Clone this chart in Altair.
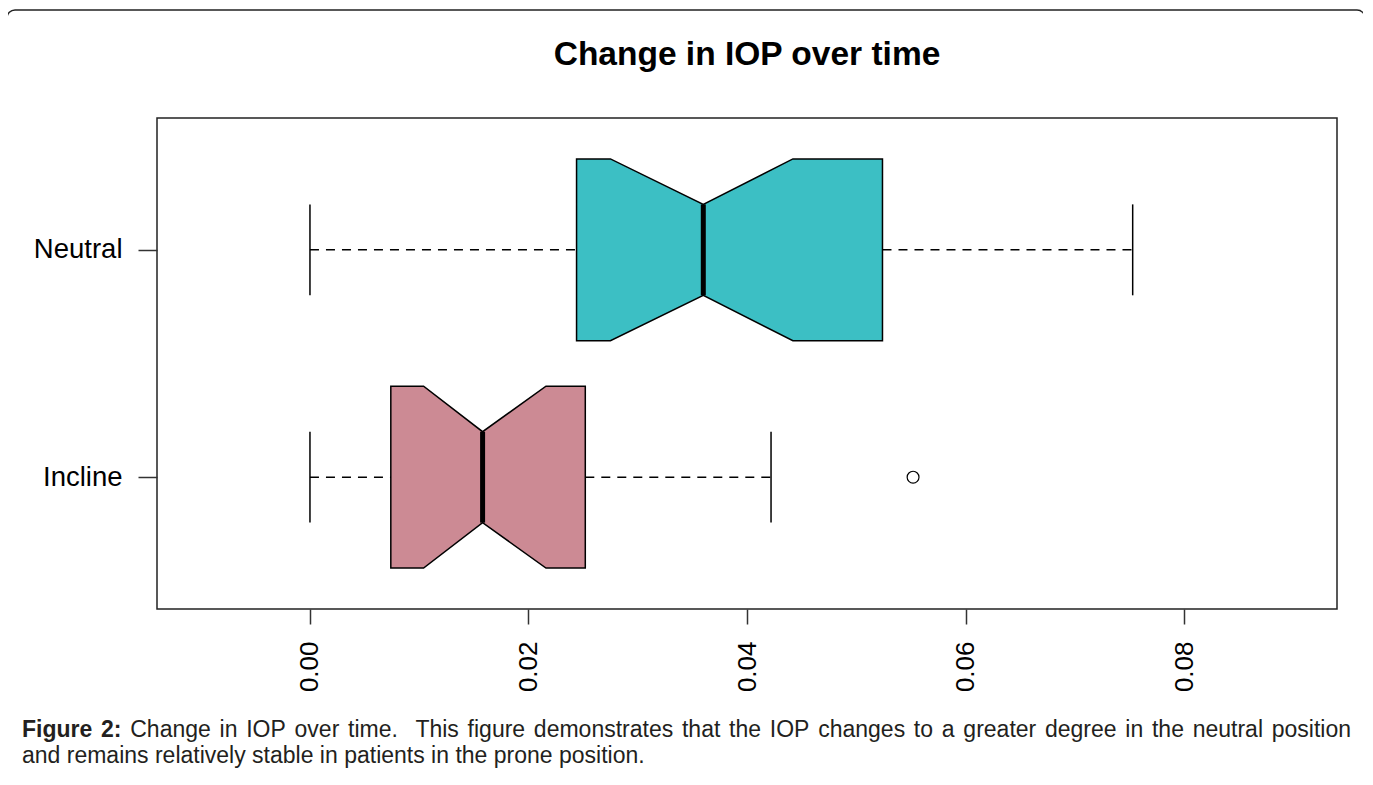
import altair as alt
import pandas as pd

# ---- data ----
groups = ["Neutral", "Incline"]
group_pos = [2, 1]
whisker_low = [0.0, 0.0]
q1 = [0.0244, 0.0074]
notch_low = [0.0275, 0.0104]
median = [0.0360, 0.0158]
notch_high = [0.0442, 0.0216]
q3 = [0.0524, 0.0252]
whisker_high = [0.0753, 0.0422]
fill_colors = ["#3CBFC4", "#CC8A94"]
outlier_groups = ["Incline"]
outlier_values = [0.0552]
x_ticks = [0.0, 0.02, 0.04, 0.06, 0.08]

title_text = "Change in IOP over time"
caption_bold = "Figure 2:"
caption_line1 = "Change in IOP over time.  This figure demonstrates that the IOP changes to a greater degree in the neutral position"
caption_line2 = "and remains relatively stable in patients in the prone position."

BOX_HALF = 0.4
NOTCH_HALF = 0.2
STAPLE_HALF = 0.2
FONT = "Liberation Sans"
CAP_SIZE = 23
CAP_COLOR = "#231f20"

W, H = 1180, 491

pos_of = dict(zip(groups, group_pos))

# notched box outlines
box_rows = []
for i, g in enumerate(groups):
    p = group_pos[i]
    for xv, half in [(q1[i], BOX_HALF), (notch_low[i], BOX_HALF), (median[i], NOTCH_HALF),
                     (notch_high[i], BOX_HALF), (q3[i], BOX_HALF)]:
        box_rows.append({"group": g, "x": xv, "lo": p - half, "hi": p + half})
box_df = pd.DataFrame(box_rows)

whisk_rows = []
for i, g in enumerate(groups):
    whisk_rows.append({"group": g, "x": whisker_low[i], "x2": q1[i], "y": group_pos[i]})
    whisk_rows.append({"group": g, "x": q3[i], "x2": whisker_high[i], "y": group_pos[i]})
whisk_df = pd.DataFrame(whisk_rows)

staple_rows = []
for i, g in enumerate(groups):
    for xv in (whisker_low[i], whisker_high[i]):
        staple_rows.append({"group": g, "x": xv, "lo": group_pos[i] - STAPLE_HALF, "hi": group_pos[i] + STAPLE_HALF})
staple_df = pd.DataFrame(staple_rows)

med_df = pd.DataFrame({"group": groups, "x": median,
                       "lo": [p - NOTCH_HALF for p in group_pos],
                       "hi": [p + NOTCH_HALF for p in group_pos]})

out_df = pd.DataFrame({"group": outlier_groups, "x": outlier_values,
                       "y": [pos_of[g] for g in outlier_groups]})

xscale = alt.Scale(domain=[-0.014, 0.094], nice=False, zero=False)
yscale = alt.Scale(domain=[0.42, 2.58], nice=False, zero=False)

xaxis = alt.Axis(values=x_ticks, format=".2f", labelAngle=270, labelFontSize=26, labelFont=FONT,
                 labelColor="black", tickSize=15, tickWidth=1.5, tickColor="#333", labelPadding=17,
                 domain=False, grid=False, title=None)
yaxis = alt.Axis(values=[1, 2], labelExpr="datum.value == 2 ? 'Neutral' : 'Incline'",
                 labelFontSize=27.5, labelFont=FONT, labelColor="black", tickSize=19, tickWidth=1.5,
                 tickColor="#333", labelPadding=16, domain=False, grid=False, title=None)

boxes = alt.Chart(box_df).mark_area(stroke="black", strokeWidth=1.5, opacity=1).encode(
    x=alt.X("x:Q", scale=xscale, axis=xaxis),
    y=alt.Y("lo:Q", scale=yscale, axis=yaxis),
    y2="hi:Q",
    color=alt.Color("group:N", scale=alt.Scale(domain=groups, range=fill_colors), legend=None),
    detail="group:N",
)

whiskers = alt.Chart(whisk_df).mark_rule(color="black", strokeWidth=1.5, strokeDash=[9, 7]).encode(
    x="x:Q", x2="x2:Q", y="y:Q")

staples = alt.Chart(staple_df).mark_rule(color="black", strokeWidth=1.5).encode(
    x="x:Q", y="lo:Q", y2="hi:Q")

medians = alt.Chart(med_df).mark_rule(color="black", strokeWidth=5).encode(
    x="x:Q", y="lo:Q", y2="hi:Q")

outliers = alt.Chart(out_df).mark_point(shape="circle", filled=False, color="black",
                                        size=140, strokeWidth=1.2, opacity=1).encode(
    x="x:Q", y="y:Q")

title = alt.Chart(pd.DataFrame({"t": [title_text]})).mark_text(
    font=FONT, fontSize=33.5, fontWeight="bold", color="black", align="center", baseline="alphabetic"
).encode(text="t:N", x=alt.value(W / 2), y=alt.value(-53))

# ---- justified caption, first line (Arial / Liberation Sans advance widths, 1/1000 em) ----
REG_W = {' ': 278, '.': 278, ':': 278, 'a': 556, 'b': 556, 'c': 500, 'd': 556, 'e': 556, 'f': 278,
         'g': 556, 'h': 556, 'i': 222, 'l': 222, 'm': 833, 'n': 556, 'o': 556, 'p': 556, 'r': 333,
         's': 500, 't': 278, 'u': 556, 'v': 500, 'y': 500, 'C': 722, 'I': 278, 'O': 778, 'P': 667,
         'T': 611, '2': 556}
BOLD_W = {' ': 278, 'F': 611, 'i': 278, 'g': 611, 'u': 611, 'r': 389, 'e': 556, '2': 556, ':': 333}


def text_width(s, bold):
    table = BOLD_W if bold else REG_W
    return sum(table.get(c, 556) for c in s) * CAP_SIZE / 1000.0


words = [(w, True) for w in caption_bold.split()] + [(w, False) for w in caption_line1.split()]
# gap weights: 1 for a normal space, 2 after "time." (double space in the caption)
gap_weights = [2 if words[i][0] == "time." else 1 for i in range(len(words) - 1)]

LINE_LEFT, LINE_RIGHT = -135, 1194   # caption text block in chart pixels
space_w = REG_W[' '] * CAP_SIZE / 1000.0
natural = sum(text_width(w, b) for w, b in words) + sum(gap_weights) * space_w
extra_per_weight = max(0.0, (LINE_RIGHT - LINE_LEFT - natural) / sum(gap_weights))

caption_layers = []
xcur = LINE_LEFT
for i, (w, b) in enumerate(words):
    caption_layers.append(
        alt.Chart(pd.DataFrame({"t": [w]})).mark_text(
            font=FONT, fontSize=CAP_SIZE, fontWeight="bold" if b else "normal", color=CAP_COLOR,
            align="left", baseline="alphabetic"
        ).encode(text="t:N", x=alt.value(xcur), y=alt.value(619))
    )
    xcur += text_width(w, b)
    if i < len(gap_weights):
        xcur += gap_weights[i] * (space_w + extra_per_weight)

cap_2 = alt.Chart(pd.DataFrame({"t": [caption_line2]})).mark_text(
    font=FONT, fontSize=CAP_SIZE, color=CAP_COLOR, align="left", baseline="alphabetic"
).encode(text="t:N", x=alt.value(LINE_LEFT), y=alt.value(645))

border = alt.Chart(pd.DataFrame({"t": [0]})).mark_rect(
    fillOpacity=0, stroke="#222", strokeWidth=1.5, cornerRadius=8
).encode(x=alt.value(-150), x2=alt.value(1208), y=alt.value(-108), y2=alt.value(700))

chart = alt.layer(boxes, whiskers, staples, medians, outliers, title, *caption_layers, cap_2, border).properties(
    width=W, height=H,
    autosize=alt.AutoSizeParams(type="none"),
    padding={"left": 149, "top": 110, "right": 26, "bottom": 162},
    background="white",
).configure_view(stroke="#222", strokeWidth=1.5)

chart.save("out.html", embed_options={"renderer": "svg", "actions": False})
